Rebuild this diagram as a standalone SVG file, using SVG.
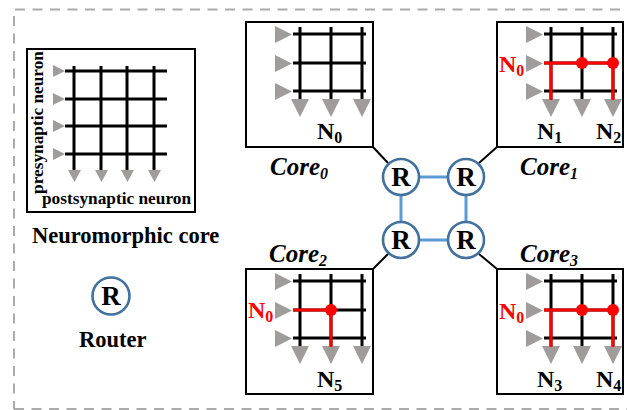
<svg xmlns="http://www.w3.org/2000/svg" xmlns:xlink="http://www.w3.org/1999/xlink" width="627" height="410" viewBox="0 0 627 410">
  <style>
    .frame { fill: none; stroke: #ababab; stroke-width: 2; stroke-dasharray: 10 7.5; }
    .box { fill: #ffffff; stroke: #000000; stroke-width: 2; }
    .wire { stroke: #000000; stroke-width: 3; fill: none; }
    .hot { stroke: #ff0000; stroke-width: 3; fill: none; }
    .dot { fill: #ff0000; }
    .tri { fill: #a09c9c; }
    .lbl { font-family: "Liberation Serif", "Times New Roman", serif; font-weight: bold; fill: #000000; }
    .big { font-size: 22.5px; }
    .small { font-size: 17.3px; }
    .nlab { font-size: 24px; }
    .sub { font-size: 16px; }
    .core { font-size: 25px; font-style: italic; }
    .red { fill: #ff0000; }
    .router { fill: #ffffff; stroke: #41719c; stroke-width: 2.6; }
    .rtxt { font-family: "Liberation Serif", "Times New Roman", serif; font-weight: bold; font-size: 27px; text-anchor: middle; }
    .link { stroke: #5b9bd5; stroke-width: 3; fill: none; }
    .tie { stroke: #000000; stroke-width: 2; fill: none; }
  </style>
  <defs>
    <!-- 3x3 crossbar, drawn relative to the top-left corner of a core box -->
    <g id="crossbar">
      <path class="wire" d="M47,12 H120 M47,41 H120 M47,69 H120 M54,5 V78 M85,5 V78 M116,5 V78"/>
      <path class="tri" d="M29,4 L46,12.5 L29,21 Z M29,33 L46,41.5 L29,50 Z M29,61 L46,69.5 L29,78 Z"/>
      <path class="tri" d="M45,77 L63,77 L54,95 Z M76,77 L94,77 L85,95 Z M107,77 L125,77 L116,95 Z"/>
    </g>
  </defs>

  <!-- dashed outline -->
  <g id="outline">
    <path class="frame" d="M15,9.5 H627"/>
    <path class="frame" d="M14,16 V409"/>
    <path class="frame" d="M14,409 H627"/>
  </g>

  <!-- legend: neuromorphic core -->
  <g id="legend-core">
    <rect class="box" x="27" y="49" width="168" height="163"/>
    <path class="wire" d="M65,71 H167 M65,99 H167 M65,126 H167 M65,154 H167 M74,66 V171 M101,66 V171 M127,66 V171 M154,66 V171"/>
    <path class="tri" d="M53,65 L65,71 L53,77 Z M53,93 L65,99 L53,105 Z M53,120 L65,126 L53,132 Z M53,148 L65,154 L53,160 Z"/>
    <path class="tri" d="M68,170 L81,170 L74.5,182 Z M95,170 L108,170 L101.5,182 Z M121,170 L134,170 L127.5,182 Z M148,170 L161,170 L154.5,182 Z"/>
    <text class="lbl small" text-anchor="middle" transform="translate(42.5,122.5) rotate(-90)">presynaptic neuron</text>
    <text class="lbl small" x="42" y="204">postsynaptic neuron</text>
    <text class="lbl big" x="32" y="243">Neuromorphic core</text>
  </g>

  <!-- legend: router -->
  <g id="legend-router">
    <circle class="router" cx="111" cy="296" r="18.5"/>
    <text class="rtxt" x="111" y="305">R</text>
    <text class="lbl big" x="79" y="347">Router</text>
  </g>

  <!-- core 0 -->
  <g id="core0">
    <g transform="translate(246,22)">
      <rect class="box" x="0" y="0" width="127" height="125"/>
      <use xlink:href="#crossbar"/>
      <text class="lbl nlab" x="71" y="117">N<tspan class="sub" dy="4">0</tspan></text>
    </g>
    <text class="lbl core" x="270" y="175">Core<tspan class="sub" dy="4">0</tspan></text>
  </g>

  <!-- core 1 -->
  <g id="core1">
    <g transform="translate(497,22)">
      <rect class="box" x="0" y="0" width="126" height="125"/>
      <use xlink:href="#crossbar"/>
      <path class="hot" d="M47,41 H116 M54,41 V78 M116,41 V78"/>
      <circle class="dot" cx="85" cy="41" r="6"/>
      <circle class="dot" cx="116" cy="41" r="6"/>
      <text class="lbl nlab red" x="2" y="50">N<tspan class="sub" dy="4">0</tspan></text>
      <text class="lbl nlab" x="40" y="117">N<tspan class="sub" dy="4">1</tspan></text>
      <text class="lbl nlab" x="99" y="117">N<tspan class="sub" dy="4">2</tspan></text>
    </g>
    <text class="lbl core" x="520" y="175">Core<tspan class="sub" dy="4">1</tspan></text>
  </g>

  <!-- core 2 -->
  <g id="core2">
    <g transform="translate(246,269)">
      <rect class="box" x="0" y="0" width="127" height="125"/>
      <use xlink:href="#crossbar"/>
      <path class="hot" d="M47,41 H85 M85,41 V78"/>
      <circle class="dot" cx="85" cy="41" r="6"/>
      <text class="lbl nlab red" x="2" y="49">N<tspan class="sub" dy="4">0</tspan></text>
      <text class="lbl nlab" x="71" y="118">N<tspan class="sub" dy="4">5</tspan></text>
    </g>
    <text class="lbl core" x="269" y="262">Core<tspan class="sub" dy="4">2</tspan></text>
  </g>

  <!-- core 3 -->
  <g id="core3">
    <g transform="translate(497,269)">
      <rect class="box" x="0" y="0" width="126" height="125"/>
      <use xlink:href="#crossbar"/>
      <path class="hot" d="M47,41 H116 M54,41 V78 M116,41 V78"/>
      <circle class="dot" cx="85" cy="41" r="6"/>
      <circle class="dot" cx="116" cy="41" r="6"/>
      <text class="lbl nlab red" x="2" y="50">N<tspan class="sub" dy="4">0</tspan></text>
      <text class="lbl nlab" x="40" y="118">N<tspan class="sub" dy="4">3</tspan></text>
      <text class="lbl nlab" x="99" y="118">N<tspan class="sub" dy="4">4</tspan></text>
    </g>
    <text class="lbl core" x="520" y="262">Core<tspan class="sub" dy="4">3</tspan></text>
  </g>

  <!-- connectors: core-to-router ties and router mesh links -->
  <g id="connectors">
    <path class="tie" d="M373,147 L388,163"/>
    <path class="tie" d="M497,147 L479,163"/>
    <path class="tie" d="M373,269 L388,254"/>
    <path class="tie" d="M497,269 L479,254"/>
    <path class="link" d="M419,177 H448"/>
    <path class="link" d="M419,240 H448"/>
    <path class="link" d="M401,195 V222"/>
    <path class="link" d="M466,195 V222"/>
  </g>

  <!-- routers -->
  <g id="router0"><circle class="router" cx="401" cy="177" r="18"/><text class="rtxt" x="401" y="186">R</text></g>
  <g id="router1"><circle class="router" cx="466" cy="177" r="18"/><text class="rtxt" x="466" y="186">R</text></g>
  <g id="router2"><circle class="router" cx="401" cy="240" r="18"/><text class="rtxt" x="401" y="249">R</text></g>
  <g id="router3"><circle class="router" cx="466" cy="240" r="18"/><text class="rtxt" x="466" y="249">R</text></g>
</svg>
